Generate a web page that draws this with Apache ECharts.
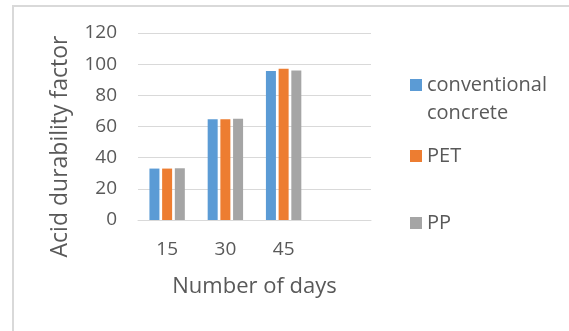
<!DOCTYPE html>
<html>
<head>
<meta charset="utf-8">
<title>Acid durability factor</title>
<script src="https://cdn.jsdelivr.net/npm/echarts@6/dist/echarts.min.js"></script>
<style>
  html, body { margin: 0; padding: 0; background: #fff; }
  #chart { width: 569px; height: 331px; }
</style>
</head>
<body>
<div id="chart"></div>
<script>
// Exposure time in acid (days); the trailing empty slot keeps the plot's spare column.
const days = ['15', '30', '45', ''];
const yTicks = { min: 0, max: 120, step: 20 };

const conventionalConcrete = [33, 64.7, 95.6];
const pet = [33, 64.7, 97];
const pp = [33.2, 65, 96];

const seriesNames = ['conventional concrete', 'PET', 'PP'];
const seriesColors = ['#5B9BD5', '#ED7D31', '#A5A5A5'];

const FONT = 'Open Sans';
const TEXT = '#595959';
const GRID = '#d9d9d9';

const chart = echarts.init(document.getElementById('chart'), null, { renderer: 'canvas' });

function bar(name, data, color) {
  return {
    name: name,
    type: 'bar',
    data: data,
    barWidth: 10,
    barGap: '27%',
    itemStyle: { color: color },
    emphasis: { disabled: true }
  };
}

function legendAt(name, top, extra) {
  return Object.assign({
    data: [name],
    orient: 'vertical',
    left: 410,
    top: top,
    padding: 0,
    itemWidth: 12,
    itemHeight: 12,
    itemGap: 0,
    icon: 'rect',
    selectedMode: false,
    textStyle: { color: TEXT, fontFamily: FONT, fontSize: 20, lineHeight: 28 }
  }, extra || {});
}

chart.setOption({
  animation: false,
  backgroundColor: '#fff',
  graphic: [
    { type: 'line', shape: { x1: 13, y1: 6, x2: 569, y2: 6 }, style: { stroke: GRID, lineWidth: 2 } },
    { type: 'line', shape: { x1: 13, y1: 5, x2: 13, y2: 331 }, style: { stroke: GRID, lineWidth: 2 } }
  ],
  grid: { left: 138, right: 198, top: 33, bottom: 111, containLabel: false },
  legend: [
    // leading blank line keeps the swatch level with the first line of the wrapped name
    legendAt(seriesNames[0], 43, {
      formatter: function () { return ' \nconventional\nconcrete'; }
    }),
    legendAt(seriesNames[1], 142),
    legendAt(seriesNames[2], 209)
  ],
  xAxis: {
    type: 'category',
    data: days,
    name: 'Number of days',
    nameLocation: 'middle',
    nameGap: 56,
    nameTextStyle: { color: TEXT, fontFamily: FONT, fontSize: 22 },
    axisLine: { lineStyle: { color: GRID, width: 1 } },
    axisTick: { show: false },
    axisLabel: { color: TEXT, fontFamily: FONT, fontSize: 19, margin: 20 }
  },
  yAxis: {
    type: 'value',
    min: yTicks.min,
    max: yTicks.max,
    interval: yTicks.step,
    name: 'Acid durability factor',
    nameLocation: 'middle',
    nameGap: 66,
    nameTextStyle: { color: TEXT, fontFamily: FONT, fontSize: 23, padding: [0, 40, 0, 0] },
    axisLine: { show: false },
    axisTick: { show: false },
    axisLabel: { color: TEXT, fontFamily: FONT, fontSize: 19, margin: 21 },
    splitLine: { lineStyle: { color: GRID, width: 1 } }
  },
  series: [
    bar(seriesNames[0], conventionalConcrete, seriesColors[0]),
    bar(seriesNames[1], pet, seriesColors[1]),
    bar(seriesNames[2], pp, seriesColors[2])
  ]
});
</script>
</body>
</html>
